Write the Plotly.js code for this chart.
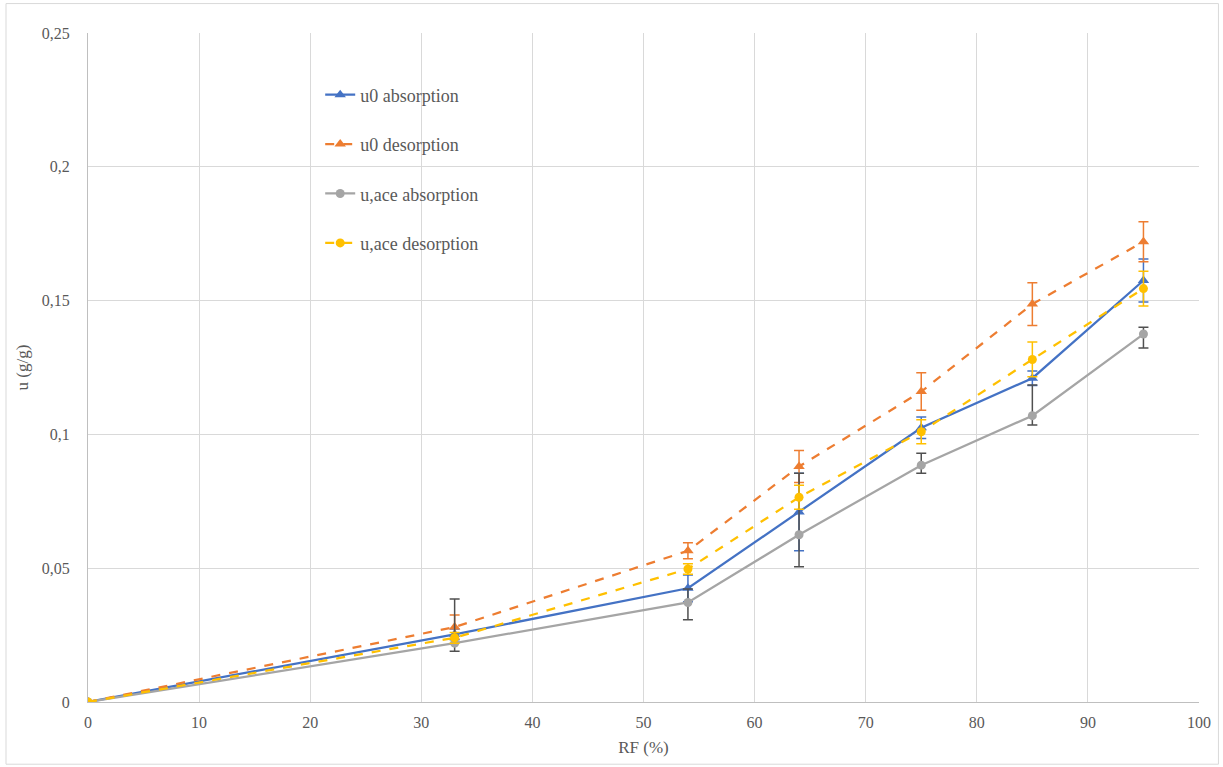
<!DOCTYPE html>
<html>
<head>
<meta charset="utf-8">
<script src="https://cdn.plot.ly/plotly-3.0.1.min.js"></script>
<style>html,body{margin:0;padding:0;background:#fff;}#chart{width:1223px;height:767px;}</style>
</head>
<body>
<div id="chart"></div>
<script>
const rf = [0, 33, 54, 64, 75, 85, 95];

const u0Abs = [0, 0.0253, 0.0425, 0.0710, 0.1025, 0.1210, 0.1575];
const u0AbsErrPlus = [0, 0.0020, 0.0050, 0.0145, 0.0040, 0.0027, 0.0080];
const u0AbsErrMinus = [0, 0.0020, 0.0050, 0.0145, 0.0040, 0.0027, 0.0080];

const u0Des = [0, 0.0280, 0.0565, 0.0880, 0.1160, 0.1487, 0.1720];
const u0DesErr = [0, 0.0045, 0.0030, 0.0060, 0.0070, 0.0080, 0.0075];

const uAceAbs = [0, 0.0220, 0.0372, 0.0625, 0.0885, 0.1070, 0.1375];
const uAceAbsErrPlus = [0, 0.0165, 0.0050, 0.0230, 0.0045, 0.0115, 0.0025];
const uAceAbsErrMinus = [0, 0.0030, 0.0065, 0.0120, 0.0030, 0.0035, 0.0052];

const uAceDes = [0, 0.0240, 0.0497, 0.0765, 0.1010, 0.1280, 0.1545];
const uAceDesErr = [0, 0.0020, 0.0020, 0.0045, 0.0045, 0.0065, 0.0065];

const names = ['u0 absorption', 'u0 desorption', 'u,ace absorption', 'u,ace desorption'];
const colors = ['#4472C4', '#ED7D31', '#A5A5A5', '#FFC000'];
const darkErr = '#505050';

function tr(i, y, plus, minus, dash, symbol, size, errColor) {
  return {
    x: rf, y: y, name: names[i], type: 'scatter', mode: 'lines+markers',
    legendgroup: 'g' + i,
    line: {color: colors[i], width: 2.25, dash: dash},
    marker: {color: colors[i], symbol: symbol, size: size},
    error_y: {type: 'data', symmetric: false, array: plus, arrayminus: minus,
              color: errColor || colors[i], thickness: 1.5, width: 5}
  };
}

const data = [
  tr(0, u0Abs, u0AbsErrPlus, u0AbsErrMinus, 'solid', 'triangle-up', 10),
  tr(1, u0Des, u0DesErr, u0DesErr, 'dash', 'triangle-up', 10),
  tr(2, uAceAbs, uAceAbsErrPlus, uAceAbsErrMinus, 'solid', 'circle', 9, darkErr),
  tr(3, uAceDes, uAceDesErr, uAceDesErr, 'dash', 'circle', 9)
];

const FAM = 'Liberation Serif';

const layout = {
  width: 1223, height: 767,
  margin: {l: 88, r: 24, t: 33, b: 65},
  paper_bgcolor: '#fff', plot_bgcolor: '#fff',
  separators: ',.',
  font: {family: FAM, color: '#595959', size: 16},
  showlegend: true,
  legend: {x: 0.209, y: 0.935, xanchor: 'left', yanchor: 'top',
           bgcolor: 'rgba(0,0,0,0)', tracegroupgap: 23,
           font: {family: FAM, color: '#595959', size: 18}},
  xaxis: {
    range: [0, 100], tickvals: [0,10,20,30,40,50,60,70,80,90,100],
    showgrid: true, gridcolor: '#D9D9D9', gridwidth: 1,
    zeroline: false, showline: true, linecolor: '#BFBFBF', linewidth: 1,
    ticks: '', ticklabelstandoff: 6,
    tickfont: {family: FAM, color: '#595959', size: 16},
    title: {text: 'RF (%)', font: {family: FAM, color: '#595959', size: 17}, standoff: 10}
  },
  yaxis: {
    range: [0, 0.25], tickvals: [0, 0.05, 0.1, 0.15, 0.2, 0.25],
    showgrid: true, gridcolor: '#D9D9D9', gridwidth: 1,
    zeroline: false, showline: true, linecolor: '#BFBFBF', linewidth: 1,
    ticks: '', ticklabelstandoff: 14,
    tickfont: {family: FAM, color: '#595959', size: 16},
    title: {text: 'u (g/g)', font: {family: FAM, color: '#595959', size: 17}, standoff: 8}
  },
  shapes: [{type: 'rect', xref: 'paper', yref: 'paper',
            x0: -0.0738, x1: 1.0175, y0: -0.093, y1: 1.044,
            line: {color: '#D9D9D9', width: 1}, fillcolor: 'rgba(0,0,0,0)'}]
};

Plotly.newPlot('chart', data, layout, {displayModeBar: false, staticPlot: true});
</script>
</body>
</html>
